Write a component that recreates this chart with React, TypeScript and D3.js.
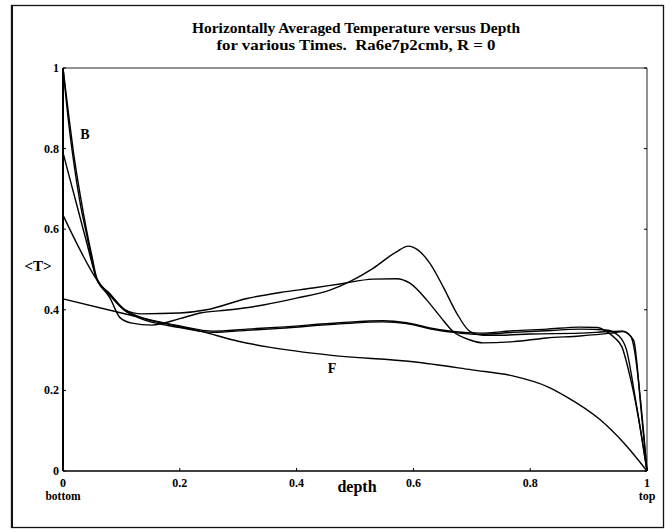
import React from "react";
import * as d3 from "d3";

type Pt = [number, number];

// depth, <T>
const curveF: Pt[] = [
  [0, 0.427], [0.1, 0.392], [0.2, 0.358], [0.235, 0.347], [0.3, 0.322], [0.35, 0.308],
  [0.46, 0.287], [0.6, 0.271], [0.7, 0.251], [0.77, 0.236], [0.83, 0.209], [0.86, 0.186],
  [0.92, 0.127], [0.96, 0.07], [1, 0],
];

const curvePeak: Pt[] = [
  [0, 0.635], [0.058, 0.474], [0.08, 0.43], [0.098, 0.38], [0.118, 0.367], [0.152, 0.362],
  [0.2, 0.378], [0.235, 0.392], [0.286, 0.4], [0.343, 0.412], [0.4, 0.429], [0.457, 0.449],
  [0.491, 0.47], [0.531, 0.503], [0.571, 0.544], [0.591, 0.558], [0.608, 0.548], [0.628, 0.516],
  [0.651, 0.457], [0.674, 0.392], [0.697, 0.346], [0.719, 0.337], [0.748, 0.337], [0.8, 0.34],
  [0.885, 0.342], [0.937, 0.346], [0.957, 0.347], [0.977, 0.325], [0.99, 0.15], [1, 0],
];

const curveBump: Pt[] = [
  [0, 1], [0.01, 0.88], [0.02, 0.77], [0.03, 0.68], [0.04, 0.6], [0.05, 0.53], [0.058, 0.478],
  [0.08, 0.44], [0.106, 0.4], [0.135, 0.39], [0.2, 0.392], [0.246, 0.4], [0.315, 0.428],
  [0.372, 0.443], [0.428, 0.454], [0.474, 0.464], [0.531, 0.476], [0.571, 0.477], [0.594, 0.466],
  [0.623, 0.424], [0.646, 0.383], [0.668, 0.346], [0.697, 0.325], [0.719, 0.318], [0.771, 0.321],
  [0.828, 0.33], [0.885, 0.335], [0.937, 0.342], [0.959, 0.346], [0.973, 0.332], [0.976, 0.318],
  [1, 0],
];

const curveFlat: Pt[] = [
  [0, 1], [0.01, 0.86], [0.02, 0.75], [0.03, 0.66], [0.04, 0.59], [0.05, 0.52], [0.058, 0.476],
  [0.08, 0.44], [0.106, 0.4], [0.13, 0.383], [0.2, 0.36], [0.257, 0.347], [0.315, 0.352],
  [0.372, 0.357], [0.474, 0.368], [0.548, 0.373], [0.588, 0.368], [0.628, 0.355], [0.668, 0.346],
  [0.714, 0.342], [0.771, 0.348], [0.828, 0.352], [0.885, 0.357], [0.914, 0.356], [0.931, 0.346],
  [0.945, 0.33], [0.957, 0.308], [0.971, 0.234], [0.985, 0.135], [1, 0],
];

const curveMid: Pt[] = [
  [0, 0.79], [0.02, 0.68], [0.04, 0.57], [0.058, 0.475], [0.08, 0.436], [0.106, 0.398],
  [0.13, 0.38], [0.2, 0.356], [0.257, 0.344], [0.315, 0.349], [0.372, 0.354], [0.474, 0.365],
  [0.548, 0.37], [0.588, 0.366], [0.628, 0.353], [0.668, 0.344], [0.714, 0.339], [0.771, 0.344],
  [0.828, 0.348], [0.885, 0.352], [0.93, 0.35], [0.952, 0.335], [0.965, 0.3], [0.98, 0.18], [1, 0],
];

const curves = [curveF, curvePeak, curveBump, curveFlat, curveMid];

const yTicks = [0, 0.2, 0.4, 0.6, 0.8, 1];
const xTicks = [0, 0.2, 0.4, 0.6, 0.8, 1];
const yTickLabels = ["0", "0.2", "0.4", "0.6", "0.8", "1"];
const xTickLabels = ["0", "0.2", "0.4", "0.6", "0.8", "1"];

const titleLines = [
  "Horizontally Averaged Temperature versus Depth",
  "for various Times.\u00a0\u00a0Ra6e7p2cmb, R = 0",
];

const W = 672;
const H = 532;
const X0 = 63;
const X1 = 647;
const Y0 = 471;
const Y1 = 68;

export default function App() {
  const x = d3.scaleLinear().domain([0, 1]).range([X0, X1]);
  const y = d3.scaleLinear().domain([0, 1]).range([Y0, Y1]);
  const line = d3
    .line<Pt>()
    .x((d) => x(d[0]))
    .y((d) => y(d[1]))
    .curve(d3.curveMonotoneX);

  const font = "'Liberation Serif', 'Times New Roman', serif";

  return (
    <svg
      width={W}
      height={H}
      style={{ position: "absolute", left: 0, top: 0, background: "#fff" }}
      fontFamily={font}
    >
      <rect x={0} y={0} width={W} height={H} fill="#fff" />
      {/* outer frame */}
      <rect x={11.5} y={5.5} width={652} height={522} fill="none" stroke="#111" strokeWidth={1.3} />
      <line x1={12} y1={5} x2={12} y2={528} stroke="#111" strokeWidth={2} />

      {/* title */}
      <text x={356} y={33} textAnchor="middle" fontSize={14} fontWeight="bold" textLength={328} lengthAdjust="spacingAndGlyphs">
        {titleLines[0]}
      </text>
      <text x={356} y={50} textAnchor="middle" fontSize={14} fontWeight="bold" textLength={279} lengthAdjust="spacingAndGlyphs">
        {titleLines[1]}
      </text>

      {/* plot frame top & right */}
      <line x1={x(0)} y1={y(1)} x2={x(1)} y2={y(1)} stroke="#222" strokeWidth={1} />
      <line x1={x(1)} y1={y(1)} x2={x(1)} y2={y(0)} stroke="#222" strokeWidth={1} />
      {/* axes */}
      <line x1={x(0)} y1={y(1)} x2={x(0)} y2={y(0)} stroke="#000" strokeWidth={2} />
      <line x1={x(0)} y1={y(0)} x2={x(1)} y2={y(0)} stroke="#000" strokeWidth={1.4} />

      {/* ticks */}
      {yTicks.map((t) => (
        <g key={"yt" + t}>
          <line x1={x(0)} x2={x(0) + 3} y1={y(t)} y2={y(t)} stroke="#000" strokeWidth={1} />
          <line x1={x(1)} x2={x(1) - 3} y1={y(t)} y2={y(t)} stroke="#000" strokeWidth={1} />
        </g>
      ))}
      {xTicks.map((t) => (
        <line key={"xt" + t} x1={x(t)} x2={x(t)} y1={y(0)} y2={y(0) - 3} stroke="#000" strokeWidth={1} />
      ))}

      {/* tick labels */}
      {yTicks.map((t, i) => (
        <text key={"yl" + t} x={x(0) - 4} y={y(t) + 4} textAnchor="end" fontSize={12} fontWeight="bold">
          {yTickLabels[i]}
        </text>
      ))}
      {xTicks.map((t, i) => (
        <text key={"xl" + t} x={x(t)} y={y(0) + 16} textAnchor="middle" fontSize={12} fontWeight="bold">
          {xTickLabels[i]}
        </text>
      ))}

      {/* axis labels */}
      <text x={x(0)} y={500} textAnchor="middle" fontSize={11.5} fontWeight="bold">bottom</text>
      <text x={x(1)} y={500} textAnchor="middle" fontSize={12} fontWeight="bold">top</text>
      <text x={357} y={492} textAnchor="middle" fontSize={16} fontWeight="bold">depth</text>
      <text x={38} y={271} textAnchor="middle" fontSize={15} fontWeight="bold">{"<T>"}</text>

      {/* curves */}
      {curves.map((c, i) => (
        <path key={i} d={line(c) || ""} fill="none" stroke="#000" strokeWidth={1.4} strokeLinejoin="round" />
      ))}

      {/* curve labels */}
      <text x={85} y={139} textAnchor="middle" fontSize={14} fontWeight="bold">B</text>
      <text x={332} y={373} textAnchor="middle" fontSize={14} fontWeight="bold">F</text>
    </svg>
  );
}
